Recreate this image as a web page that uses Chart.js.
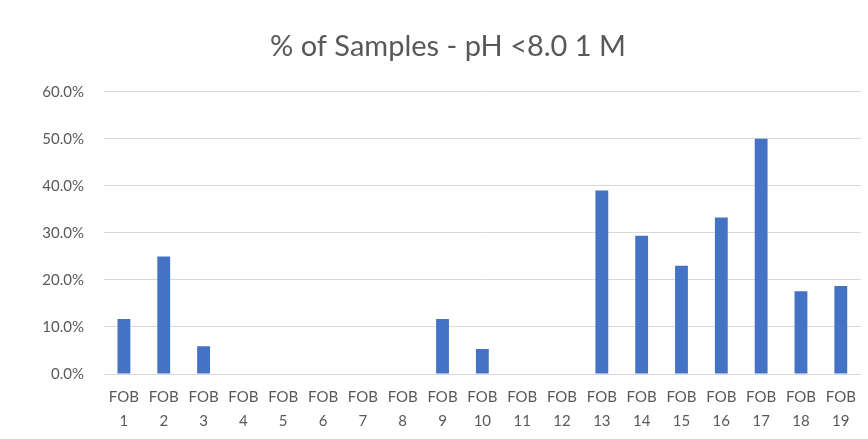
<!DOCTYPE html>
<html>
<head>
<meta charset="utf-8">
<script src="https://cdn.jsdelivr.net/npm/chart.js@4"></script>
<style>
html,body{margin:0;padding:0;background:#fff;}
#wrap{width:868px;height:439px;position:relative;}
</style>
</head>
<body>
<div id="wrap"><canvas id="c" width="868" height="439"></canvas></div>
<script>
const categories = ['1','2','3','4','5','6','7','8','9','10','11','12','13','14','15','16','17','18','19'];
const categoryPrefix = 'FOB';
const values = [11.7, 25.0, 5.9, 0, 0, 0, 0, 0, 11.7, 5.3, 0, 0, 39.0, 29.4, 23.0, 33.3, 50.0, 17.6, 18.7];
const titleText = '% of Samples - pH <8.0 1 M';
const yMax = 60;
const yStep = 10;

const labels = categories.map(c => [categoryPrefix, c]);
const textColor = '#595959';
const fontFam = 'Lato, "Open Sans", sans-serif';

new Chart(document.getElementById('c'), {
  type: 'bar',
  data: {
    labels: labels,
    datasets: [{
      data: values,
      backgroundColor: '#4472C4',
      borderWidth: 0,
      barPercentage: 0.62,
      categoryPercentage: 0.52
    }]
  },
  options: {
    responsive: false,
    animation: false,
    devicePixelRatio: 1,
    layout: { padding: { left: 34, right: 6, top: 0, bottom: 0 } },
    plugins: {
      legend: { display: false },
      tooltip: { enabled: false },
      title: {
        display: true,
        text: titleText,
        color: textColor,
        font: { family: fontFam, size: 29, weight: 'normal' },
        padding: { top: 29, bottom: 28 }
      }
    },
    scales: {
      x: {
        afterFit: (s) => { s.height = 65; },
        grid: { display: false, drawTicks: false },
        border: { display: false },
        ticks: {
          color: textColor,
          font: { family: fontFam, size: 15, lineHeight: 1.55 },
          maxRotation: 0,
          minRotation: 0,
          autoSkip: false,
          padding: 12
        }
      },
      y: {
        min: 0,
        max: yMax,
        afterFit: (s) => { s.width = 70; },
        grid: { color: '#D9D9D9', drawTicks: false, lineWidth: 1 },
        border: { display: false },
        ticks: {
          stepSize: yStep,
          color: textColor,
          font: { family: fontFam, size: 15 },
          padding: 20,
          callback: v => v.toFixed(1) + '%'
        }
      }
    }
  }
});
</script>
</body>
</html>
